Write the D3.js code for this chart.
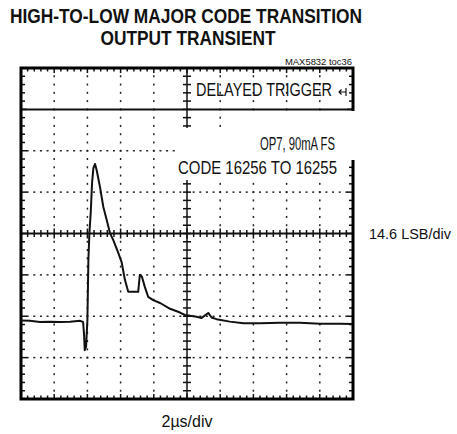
<!DOCTYPE html>
<html>
<head>
<meta charset="utf-8">
<script src="https://cdn.jsdelivr.net/npm/d3@7"></script>
<style>
  body { margin: 0; background: #fff; }
  text { font-family: "Liberation Sans Narrow", "Arial Narrow", "Liberation Sans", Arial, sans-serif; fill: #111; }
</style>
</head>
<body>
<div id="chart"></div>
<script>
// trace, in divisions (x: 2us/div, y: 14.6 LSB/div, 0 = center line)
const traceX = [0, 0.27, 0.57, 0.87, 1.17, 1.48, 1.78, 1.87, 1.90, 1.92, 1.96, 2.00, 2.03, 2.06, 2.10, 2.14, 2.18, 2.23, 2.28, 2.38, 2.48, 2.58, 2.68, 2.78, 2.93, 3.03, 3.13, 3.23, 3.53, 3.58, 3.64, 3.73, 3.83, 3.98, 4.19, 4.49, 4.79, 4.94, 5.29, 5.44, 5.64, 5.74, 5.89, 6.29, 6.70, 7.20, 7.80, 8.40, 9.01, 9.61, 9.97];
const traceY = [-2.10, -2.11, -2.14, -2.13, -2.14, -2.13, -2.11, -2.14, -2.45, -2.82, -2.74, -2.09, -0.64, 0.01, 0.50, 1.22, 1.58, 1.68, 1.53, 1.12, 0.64, 0.33, 0.01, -0.16, -0.47, -0.69, -1.12, -1.41, -1.41, -1.00, -1.04, -1.29, -1.53, -1.61, -1.68, -1.82, -1.91, -1.97, -2.01, -2.04, -1.92, -2.03, -2.07, -2.13, -2.17, -2.17, -2.16, -2.16, -2.18, -2.18, -2.19];

const titleLines = ["HIGH-TO-LOW MAJOR CODE TRANSITION", "OUTPUT TRANSIENT"];
const partLabel = "MAX5832 toc36";
const triggerLabel = "DELAYED TRIGGER";
const noteLines = ["OP7, 90mA FS", "CODE 16256 TO 16255"];
const yScaleLabel = "14.6 LSB/div";
const xScaleLabel = "2\u00b5s/div";

const xDivs = 10, yDivs = 4;

const svg = d3.select("#chart").append("svg")
    .attr("width", 457)
    .attr("height", 434);

const x = d3.scaleLinear().domain([0, xDivs]).range([21, 353]);
const y = d3.scaleLinear().domain([-yDivs, yDivs]).range([399, 68]);

// titles
svg.append("text").attr("x", 186).attr("y", 22.5).attr("text-anchor", "middle")
    .attr("font-size", 20).attr("font-weight", "bold")
    .attr("textLength", 352).attr("lengthAdjust", "spacingAndGlyphs")
    .text(titleLines[0]);
svg.append("text").attr("x", 188).attr("y", 45).attr("text-anchor", "middle")
    .attr("font-size", 20).attr("font-weight", "bold")
    .attr("textLength", 175).attr("lengthAdjust", "spacingAndGlyphs")
    .text(titleLines[1]);
svg.append("text").attr("x", 352).attr("y", 65).attr("text-anchor", "end")
    .attr("font-size", 9)
    .attr("textLength", 67).attr("lengthAdjust", "spacingAndGlyphs")
    .text(partLabel);

const grid = svg.append("g");

// dotted grid lines
const minorX = d3.range(0, xDivs * 5 + 1).map(i => i / 5);
const minorY = d3.range(-yDivs * 5, yDivs * 5 + 1).map(i => i / 5);
[1, 2, 3, 4, 6, 7, 8, 9].forEach(k => {
  grid.selectAll(null).data(minorY.slice(1, -1)).enter().append("rect")
      .attr("x", x(k) - 0.75).attr("y", d => y(d) - 1)
      .attr("width", 1.5).attr("height", 2).attr("fill", "#222");
});
[-3, -2, -1, 1, 2].forEach(k => {
  grid.selectAll(null).data(minorX.slice(1, -1)).enter().append("rect")
      .attr("x", d => x(d) - 1).attr("y", y(k) - 0.75)
      .attr("width", 2).attr("height", 1.5).attr("fill", "#222");
});

// center axes with minor ticks
grid.append("line").attr("x1", x(0)).attr("x2", x(xDivs)).attr("y1", y(0)).attr("y2", y(0))
    .attr("stroke", "#111").attr("stroke-width", 2);
grid.append("line").attr("x1", x(5)).attr("x2", x(5)).attr("y1", y(-yDivs)).attr("y2", y(yDivs))
    .attr("stroke", "#111").attr("stroke-width", 1.5);
grid.selectAll(null).data(minorX).enter().append("line")
    .attr("x1", d => x(d)).attr("x2", d => x(d))
    .attr("y1", d => y(0) - (d % 1 === 0 ? 5 : 3.5)).attr("y2", d => y(0) + (d % 1 === 0 ? 5 : 3.5))
    .attr("stroke", "#111").attr("stroke-width", 1.5);
grid.selectAll(null).data(minorY).enter().append("line")
    .attr("x1", x(5) - 4).attr("x2", x(5) + 4)
    .attr("y1", d => y(d)).attr("y2", d => y(d))
    .attr("stroke", "#111").attr("stroke-width", 1.5);

// trigger separator
grid.append("line").attr("x1", x(0)).attr("x2", x(xDivs)).attr("y1", y(3)).attr("y2", y(3))
    .attr("stroke", "#111").attr("stroke-width", 2);

// frame ticks
grid.selectAll(null).data(minorX).enter().append("line")
    .attr("x1", d => x(d)).attr("x2", d => x(d))
    .attr("y1", y(yDivs)).attr("y2", d => y(yDivs) + (d % 1 === 0 ? 5 : 3.5))
    .attr("stroke", "#111").attr("stroke-width", 1.5);
grid.selectAll(null).data(minorX).enter().append("line")
    .attr("x1", d => x(d)).attr("x2", d => x(d))
    .attr("y1", y(-yDivs)).attr("y2", d => y(-yDivs) - (d % 1 === 0 ? 5 : 3.5))
    .attr("stroke", "#111").attr("stroke-width", 1.5);
grid.selectAll(null).data(minorY).enter().append("line")
    .attr("x1", x(0)).attr("x2", d => x(0) + (Math.abs(d % 1) < 1e-9 ? 6 : 4))
    .attr("y1", d => y(d)).attr("y2", d => y(d))
    .attr("stroke", "#111").attr("stroke-width", 1.5);
grid.selectAll(null).data(minorY).enter().append("line")
    .attr("x1", x(xDivs)).attr("x2", d => x(xDivs) - (Math.abs(d % 1) < 1e-9 ? 6 : 4))
    .attr("y1", d => y(d)).attr("y2", d => y(d))
    .attr("stroke", "#111").attr("stroke-width", 1.5);

// frame
svg.append("rect").attr("x", x(0)).attr("y", y(yDivs))
    .attr("width", x(xDivs) - x(0)).attr("height", y(-yDivs) - y(yDivs))
    .attr("fill", "none").attr("stroke", "#000").attr("stroke-width", 3);

// note text boxes hide the grid behind them
svg.append("rect").attr("x", 250).attr("y", 111).attr("width", 106).attr("height", 49).attr("fill", "#fff");
svg.append("rect").attr("x", 177).attr("y", 128).attr("width", 163).attr("height", 52).attr("fill", "#fff");

// trace
const line = d3.line().x((d, i) => x(traceX[i])).y(d => y(d));
svg.append("path").datum(traceY)
    .attr("d", line)
    .attr("fill", "none").attr("stroke", "#111")
    .attr("stroke-width", 2).attr("stroke-linejoin", "round");

// labels
svg.append("text").attr("x", 196).attr("y", 96).attr("font-size", 18)
    .attr("textLength", 136).attr("lengthAdjust", "spacingAndGlyphs")
    .text(triggerLabel);
svg.append("path").attr("d", "M346,88 V96 M346,92 H339 M341.5,89.5 L339,92 L341.5,94.5")
    .attr("fill", "none").attr("stroke", "#111").attr("stroke-width", 1.2);

svg.append("text").attr("x", 335).attr("y", 150).attr("text-anchor", "end").attr("font-size", 18)
    .attr("textLength", 75).attr("lengthAdjust", "spacingAndGlyphs")
    .text(noteLines[0]);
svg.append("text").attr("x", 337).attr("y", 174).attr("text-anchor", "end").attr("font-size", 18)
    .attr("textLength", 159).attr("lengthAdjust", "spacingAndGlyphs")
    .text(noteLines[1]);

svg.append("text").attr("x", 369).attr("y", 239).attr("font-size", 15)
    .attr("textLength", 82).attr("lengthAdjust", "spacingAndGlyphs")
    .text(yScaleLabel);
svg.append("text").attr("x", 187).attr("y", 427).attr("text-anchor", "middle").attr("font-size", 17)
    .attr("textLength", 51).attr("lengthAdjust", "spacingAndGlyphs")
    .text(xScaleLabel);
</script>
</body>
</html>
